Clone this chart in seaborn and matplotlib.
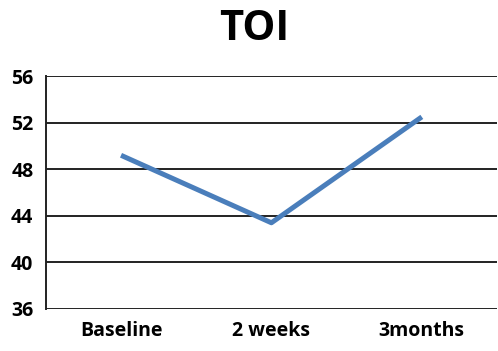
import matplotlib
matplotlib.use("Agg")
import matplotlib.pyplot as plt
import seaborn as sns
import pandas as pd

# Series data
timepoints = ["Baseline", "2 weeks", "3months"]
toi_values = [49.2, 43.4, 52.5]
y_ticks = [36, 40, 44, 48, 52, 56]

df = pd.DataFrame({"time": timepoints, "toi": toi_values})
df["pos"] = range(len(df))

sns.set_style("white")
plt.rcParams["font.family"] = ["Open Sans", "DejaVu Sans"]
plt.rcParams["text.color"] = "black"
plt.rcParams["xtick.color"] = "black"
plt.rcParams["ytick.color"] = "black"

fig = plt.figure(figsize=(4.98, 3.51), dpi=100)
ax = fig.add_axes([0.092, 0.120, 0.906, 0.663])

sns.lineplot(data=df, x="pos", y="toi", ax=ax, color="#4A7EBB",
             linewidth=3.6, solid_capstyle="butt", zorder=3)

ax.set_xlim(-0.5, len(timepoints) - 0.5)
ax.set_ylim(y_ticks[0], y_ticks[-1])
ax.set_yticks(y_ticks)
ax.set_xticks(df["pos"])
ax.set_xticklabels(timepoints)
for yv in y_ticks:
    ax.axhline(yv, color="#222222", linewidth=1.4, zorder=1)

for side in ["top", "right", "bottom"]:
    ax.spines[side].set_visible(False)
ax.spines["left"].set_color("#222222")
ax.spines["left"].set_linewidth(1.4)

ax.tick_params(axis="both", length=0, labelsize=14, labelcolor="black")
ax.tick_params(axis="y", pad=9)
ax.tick_params(axis="x", pad=9)
for lbl in ax.get_xticklabels() + ax.get_yticklabels():
    lbl.set_fontweight("bold")

ax.set_xlabel("")
ax.set_ylabel("")
fig.text(0.51, 0.915, "TOI", ha="center", va="center",
         fontsize=30, fontweight="bold", color="black")

fig.savefig("out.png", dpi=100)
